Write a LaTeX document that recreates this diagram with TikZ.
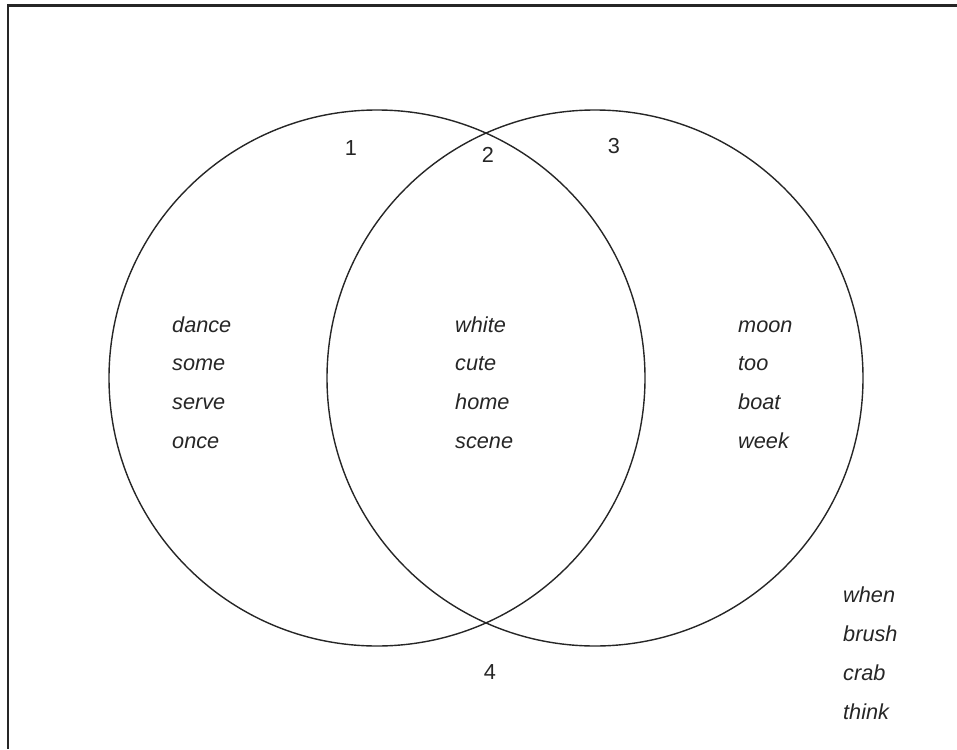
\documentclass[tikz,border=0pt]{standalone}
\usepackage{fontspec}
\setmainfont{Liberation Sans}
\begin{document}
\begin{tikzpicture}[x=1pt,y=-1pt,
  ring/.style={draw=black!85,line width=1.4pt},
  frameline/.style={draw=black!85,line width=2.6pt},
  word/.style={anchor=base west,inner sep=0pt,font=\fontsize{21.7}{26}\selectfont\itshape,text=black!85},
  num/.style={anchor=base,inner sep=0pt,font=\fontsize{21.7}{26}\selectfont,text=black!85}]
\useasboundingbox (0,0) rectangle (957,749);
% frame (top and left edges)
\coordinate (ftl) at (8,5.3);
\coordinate (ftr) at (957,5.3);
\coordinate (fbl) at (8,749);
\draw[frameline] (ftr) -- (ftl) -- (fbl);
% circles
\node[ring,circle,minimum size=536pt,inner sep=0pt] (cl) at (377,378) {};
\node[ring,circle,minimum size=536pt,inner sep=0pt] (cr) at (595,378) {};
% region numbers
\node[num] (n1) at (351,155) {1};
\node[num] (n2) at (488,162.5) {2};
\node[num] (n3) at (614,153.5) {3};
\node[num] (n4) at (490,679) {4};
% left words
\node[word] (a1) at (172,332) {dance};
\node[word] (a2) at (172,370.5) {some};
\node[word] (a3) at (172,409) {serve};
\node[word] (a4) at (172,448) {once};
% middle words
\node[word] (b1) at (455,332) {white};
\node[word] (b2) at (455,370.5) {cute};
\node[word] (b3) at (455,409) {home};
\node[word] (b4) at (455,448) {scene};
% right words
\node[word] (c1) at (738,332) {moon};
\node[word] (c2) at (738,370.5) {too};
\node[word] (c3) at (738,409) {boat};
\node[word] (c4) at (738,448) {week};
% outside words
\node[word] (d1) at (843,602) {when};
\node[word] (d2) at (843,641) {brush};
\node[word] (d3) at (843,680) {crab};
\node[word] (d4) at (843,719) {think};
\end{tikzpicture}
\end{document}
